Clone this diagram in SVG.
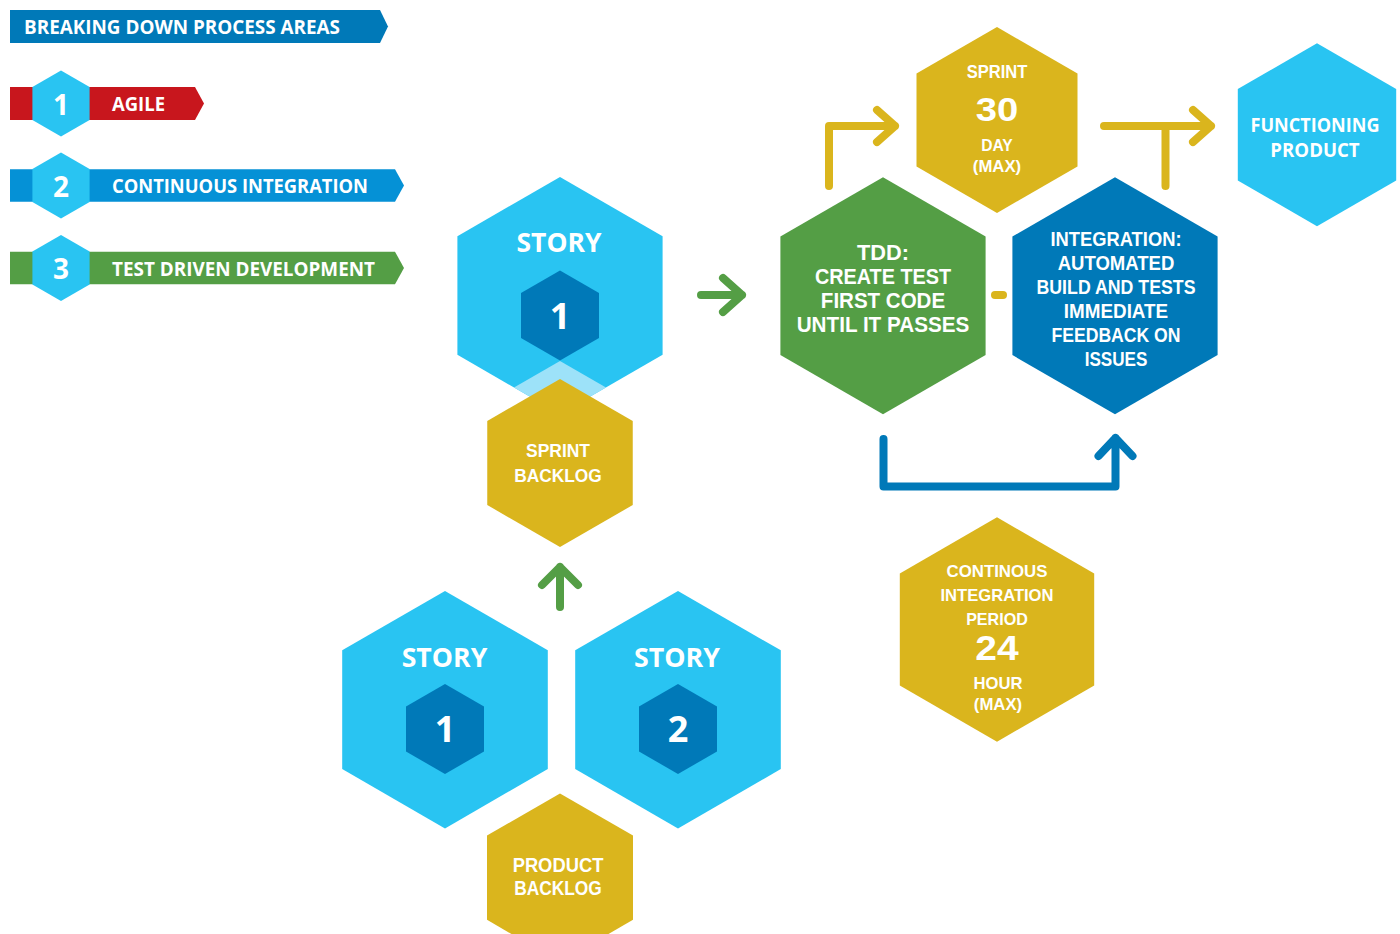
<svg xmlns="http://www.w3.org/2000/svg" width="1400" height="934" viewBox="0 0 1400 934">
<style>
text{font-family:"Open Sans","Liberation Sans",sans-serif;font-weight:700;fill:#fff;text-anchor:middle}
.t text{font-family:"Liberation Sans","Open Sans",sans-serif}
.l{text-anchor:start}
.cyan{fill:#29c4f2}
.dark{fill:#0079b8}
.yel{fill:#dab51d}
.grn{fill:#549e45}
.red{fill:#c8161d}
.blu{fill:#0591d6}
.lite{fill:#9de2f9}
.ar{fill:none;stroke-width:8;stroke-linecap:round;stroke-linejoin:round}
</style>
<rect width="1400" height="934" fill="#fff"/>
<g id="legend">
  <polygon class="dark" points="10,10 380,10 388,26.5 380,43 10,43"/>
  <text class="l" x="24" y="34" font-size="20" textLength="316" lengthAdjust="spacingAndGlyphs">BREAKING DOWN PROCESS AREAS</text>
  <polygon class="red" points="10,87 195,87 204,103.5 195,120 10,120"/>
  <polygon class="cyan" points="61,70.5 89.6,87 89.6,120 61,136.5 32.4,120 32.4,87"/>
  <text x="61" y="115" font-size="28">1</text>
  <text class="l" x="112" y="111" font-size="19" textLength="53" lengthAdjust="spacingAndGlyphs">AGILE</text>
  <polygon class="blu" points="10,169.3 395,169.3 404,185.5 395,201.7 10,201.7"/>
  <polygon class="cyan" points="61,152.5 89.6,169 89.6,202 61,218.5 32.4,202 32.4,169"/>
  <text x="61" y="196.5" font-size="28">2</text>
  <text class="l" x="112" y="193.3" font-size="19" textLength="256" lengthAdjust="spacingAndGlyphs">CONTINUOUS INTEGRATION</text>
  <polygon class="grn" points="10,251.7 395,251.7 404,268 395,284.3 10,284.3"/>
  <polygon class="cyan" points="61,235 89.6,251.5 89.6,284.5 61,301 32.4,284.5 32.4,251.5"/>
  <text x="61" y="279" font-size="28">3</text>
  <text class="l" x="112" y="276" font-size="19" textLength="263" lengthAdjust="spacingAndGlyphs">TEST DRIVEN DEVELOPMENT</text>
</g>
<g id="story-top">
  <polygon class="cyan" points="560,177 662.6,236.25 662.6,354.75 560,414 457.4,354.75 457.4,236.25"/>
  <polygon class="lite" points="514,387.5 560,361 606,387.5 560,414"/>
  <polygon class="dark" points="560,270.5 599,293 599,338 560,360.5 521,338 521,293"/>
  <text x="559" y="251.7" font-size="27" textLength="85" lengthAdjust="spacingAndGlyphs">STORY</text>
  <text x="560" y="329.3" font-size="36">1</text>
</g>
<g id="sprint-backlog" class="t">
  <polygon class="yel" points="560,379 632.75,421 632.75,505 560,547 487.25,505 487.25,421"/>
  <text x="558" y="457.3" font-size="19" textLength="64" lengthAdjust="spacingAndGlyphs">SPRINT</text>
  <text x="558" y="481.7" font-size="19" textLength="87.6" lengthAdjust="spacingAndGlyphs">BACKLOG</text>
</g>
<g id="story-1">
  <polygon class="cyan" points="445,591 547.8,650.35 547.8,769.05 445,828.4 342.2,769.05 342.2,650.35"/>
  <polygon class="dark" points="445,684 484,706.5 484,751.5 445,774 406,751.5 406,706.5"/>
  <text x="444.5" y="666.7" font-size="27" textLength="85.6" lengthAdjust="spacingAndGlyphs">STORY</text>
  <text x="445" y="742.3" font-size="36">1</text>
</g>
<g id="story-2">
  <polygon class="cyan" points="678,591 780.8,650.35 780.8,769.05 678,828.4 575.2,769.05 575.2,650.35"/>
  <polygon class="dark" points="678,684 717,706.5 717,751.5 678,774 639,751.5 639,706.5"/>
  <text x="677" y="666.7" font-size="27" textLength="86" lengthAdjust="spacingAndGlyphs">STORY</text>
  <text x="678" y="742.3" font-size="36">2</text>
</g>
<g id="product-backlog" class="t">
  <polygon class="yel" points="560,793.4 633,835.55 633,919.85 560,962 487,919.85 487,835.55"/>
  <text x="558" y="871.7" font-size="20" textLength="90.7" lengthAdjust="spacingAndGlyphs">PRODUCT</text>
  <text x="558" y="895" font-size="20" textLength="87.7" lengthAdjust="spacingAndGlyphs">BACKLOG</text>
</g>
<g id="tdd" class="t">
  <polygon class="grn" points="883,177.3 985.6,236.55 985.6,355.05 883,414.3 780.4,355.05 780.4,236.55"/>
  <text x="883" y="260" font-size="21.4" textLength="52" lengthAdjust="spacingAndGlyphs">TDD:</text>
  <text x="883" y="283.5" font-size="21.4" textLength="136" lengthAdjust="spacingAndGlyphs">CREATE TEST</text>
  <text x="883" y="307.5" font-size="21.4" textLength="124.3" lengthAdjust="spacingAndGlyphs">FIRST CODE</text>
  <text x="883" y="331.5" font-size="21.4" textLength="172.6" lengthAdjust="spacingAndGlyphs">UNTIL IT PASSES</text>
</g>
<g id="integration" class="t">
  <polygon class="dark" points="1115,177.3 1217.6,236.55 1217.6,355.05 1115,414.3 1012.4,355.05 1012.4,236.55"/>
  <text x="1116" y="246" font-size="20" textLength="131" lengthAdjust="spacingAndGlyphs">INTEGRATION:</text>
  <text x="1116" y="270" font-size="20" textLength="116.7" lengthAdjust="spacingAndGlyphs">AUTOMATED</text>
  <text x="1116" y="294" font-size="20" textLength="159" lengthAdjust="spacingAndGlyphs">BUILD AND TESTS</text>
  <text x="1116" y="318" font-size="20" textLength="104.3" lengthAdjust="spacingAndGlyphs">IMMEDIATE</text>
  <text x="1116" y="342" font-size="20" textLength="129" lengthAdjust="spacingAndGlyphs">FEEDBACK ON</text>
  <text x="1116" y="366" font-size="20" textLength="62.7" lengthAdjust="spacingAndGlyphs">ISSUES</text>
</g>
<g id="sprint-30" class="t">
  <polygon class="yel" points="997,27 1077.5,73.5 1077.5,166.5 997,213 916.5,166.5 916.5,73.5"/>
  <text x="997" y="78" font-size="18" textLength="60.6" lengthAdjust="spacingAndGlyphs">SPRINT</text>
  <text x="997" y="120.5" font-size="34" textLength="42.5" lengthAdjust="spacingAndGlyphs">30</text>
  <text x="997" y="150.5" font-size="17" textLength="31.6" lengthAdjust="spacingAndGlyphs">DAY</text>
  <text x="997" y="172" font-size="17" textLength="48.4" lengthAdjust="spacingAndGlyphs">(MAX)</text>
</g>
<g id="functioning-product">
  <polygon class="cyan" points="1317,43.2 1396.2,89 1396.2,180.45 1317,226.2 1237.8,180.45 1237.8,89"/>
  <text x="1315" y="131.7" font-size="20" textLength="129" lengthAdjust="spacingAndGlyphs">FUNCTIONING</text>
  <text x="1315" y="156.7" font-size="20" textLength="89.3" lengthAdjust="spacingAndGlyphs">PRODUCT</text>
</g>
<g id="ci-period" class="t">
  <polygon class="yel" points="997,517.3 1094.2,573.4 1094.2,685.6 997,741.7 899.8,685.6 899.8,573.4"/>
  <text x="997" y="576.7" font-size="17" textLength="101" lengthAdjust="spacingAndGlyphs">CONTINOUS</text>
  <text x="997" y="600.7" font-size="17" textLength="113" lengthAdjust="spacingAndGlyphs">INTEGRATION</text>
  <text x="997" y="624.5" font-size="17" textLength="61.7" lengthAdjust="spacingAndGlyphs">PERIOD</text>
  <text x="997" y="660" font-size="35" textLength="43.3" lengthAdjust="spacingAndGlyphs">24</text>
  <text x="998" y="689" font-size="17" textLength="49" lengthAdjust="spacingAndGlyphs">HOUR</text>
  <text x="998" y="710" font-size="17" textLength="48.4" lengthAdjust="spacingAndGlyphs">(MAX)</text>
</g>
<g id="connectors">
  <g stroke="#549e45" class="ar">
    <path d="M701,295 H742 M723,278 L742,295 L723,312"/>
    <path d="M560,607 V567 M542,585 L560,567 L578,585"/>
  </g>
  <g stroke="#dab51d" class="ar">
    <path d="M829,186 V126 H895 M877,110 L895,126 L877,142"/>
    <path d="M1104,126 H1211 M1193,110 L1211,126 L1193,142 M1165.5,126 V186"/>
    <path d="M995,295 H1003"/>
  </g>
  <g stroke="#0079b8" class="ar">
    <path d="M883.5,439 V486.5 H1115.5 V438 M1098.5,456 L1115.5,438 L1132.5,456"/>
  </g>
</g>
</svg>
